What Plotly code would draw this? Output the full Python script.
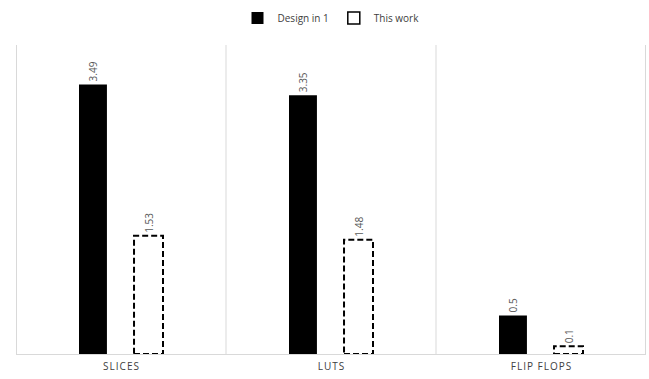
import plotly.graph_objects as go

categories = ["SLICES", "LUTS", "FLIP FLOPS"]
design_in_1 = [3.49, 3.35, 0.5]
this_work = [1.53, 1.48, 0.1]

fig = go.Figure()

W1, OFF1 = 0.133, -0.2
W2, OFF2 = 0.138, 0.062
HS = "\u200a"
tick_text = [HS.join(list(c)) for c in categories]

fig.add_trace(go.Bar(
    x=categories, y=design_in_1, name="Design in 1",
    width=W1, offset=OFF1,
    marker=dict(color="black", line=dict(width=0)),
    text=[str(v) for v in design_in_1], textposition="outside", textangle=-90,
    textfont=dict(size=10, color="#595959", family="Open Sans"), cliponaxis=False,
))
fig.add_trace(go.Bar(
    x=categories, y=this_work, name="This work", showlegend=False,
    width=W2, offset=OFF2,
    marker=dict(color="rgba(0,0,0,0)", line=dict(width=0)),
    text=[str(v) for v in this_work], textposition="outside", textangle=-90,
    textfont=dict(size=10, color="#595959", family="Open Sans"), cliponaxis=False,
))
# legend-only entry for dashed series
fig.add_trace(go.Bar(
    x=[categories[0]], y=[None], name="This work",
    marker=dict(color="white", line=dict(color="black", width=1.5)),
))

for i, v in enumerate(this_work):
    fig.add_shape(type="rect", xref="x", yref="y",
                  x0=i + OFF2, x1=i + OFF2 + W2, y0=0, y1=v,
                  line=dict(color="black", width=2, dash="6px,3px"),
                  fillcolor="rgba(0,0,0,0)")

# category boundary lines (including outer edges)
n = len(categories)
for b in range(n + 1):
    xp = min(max(b / n, 0.0008), 0.9992)
    fig.add_shape(type="line", xref="paper", yref="paper",
                  x0=xp, x1=xp, y0=0, y1=1,
                  line=dict(color="#d9d9d9", width=1), layer="below")

fig.update_layout(
    width=649, height=379,
    margin=dict(l=16, r=3, t=45, b=25, autoexpand=False),
    barmode="overlay",
    plot_bgcolor="white", paper_bgcolor="white",
    showlegend=True,
    legend=dict(orientation="h", x=0.5, xanchor="center", y=1.087, yref="paper",
                yanchor="middle", font=dict(size=10, color="#404040", family="Open Sans"),
                itemwidth=30, traceorder="normal"),
    xaxis=dict(type="category", showgrid=False, ticks="", showline=True,
               linecolor="#d9d9d9", mirror=False, range=[-0.5, 2.5],
               tickvals=categories, ticktext=tick_text, ticklabelstandoff=3,
               tickfont=dict(size=10, color="#404040", family="Open Sans")),
    yaxis=dict(range=[0, 4], visible=False, showgrid=False, zeroline=False),
)

fig.write_html("out.html", config={"displayModeBar": False},
               post_script="document.body.style.margin='0';document.body.style.overflow='hidden';")
